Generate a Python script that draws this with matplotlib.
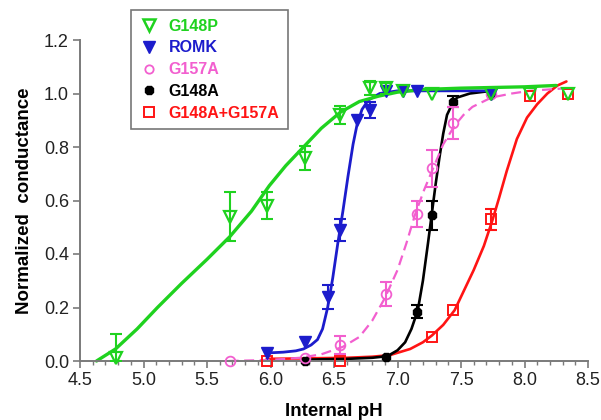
import matplotlib
matplotlib.use('Agg')
import matplotlib.pyplot as plt
from matplotlib.lines import Line2D
from matplotlib.ticker import MultipleLocator, FormatStrFormatter

plt.rcParams['font.family'] = ['Liberation Sans', 'DejaVu Sans']

# ---------------- data ----------------
series_names = ['G148P', 'ROMK', 'G157A', 'G148A', 'G148A+G157A']

g148p_ph  = [4.78, 5.68, 5.97, 6.27, 6.55, 6.78, 6.91, 7.04, 7.27, 7.74, 8.04, 8.34]
g148p_val = [0.01, 0.54, 0.58, 0.76, 0.92, 1.02, 1.02, 1.01, 1.00, 1.00, 1.00, 1.00]
g148p_err = [0.09, 0.09, 0.05, 0.045, 0.035, 0.025, 0.02, 0, 0, 0, 0, 0]

romk_ph  = [5.97, 6.27, 6.45, 6.55, 6.68, 6.78, 6.91, 7.04, 7.15, 7.74]
romk_val = [0.03, 0.07, 0.24, 0.49, 0.90, 0.94, 1.01, 1.01, 1.01, 1.00]
romk_err = [0, 0, 0.045, 0.04, 0, 0.03, 0, 0, 0, 0]

g157a_ph  = [5.68, 6.27, 6.55, 6.91, 7.15, 7.27, 7.44, 7.74]
g157a_val = [0.00, 0.01, 0.06, 0.25, 0.55, 0.72, 0.89, 1.00]
g157a_err = [0, 0, 0.035, 0.045, 0.05, 0.07, 0.06, 0]

g148a_ph  = [6.27, 6.91, 7.15, 7.27, 7.44, 7.74]
g148a_val = [0.00, 0.015, 0.185, 0.545, 0.97, 1.00]
g148a_err = [0, 0, 0.025, 0.055, 0.02, 0]

dbl_ph  = [5.97, 6.55, 7.27, 7.44, 7.74, 8.04, 8.34]
dbl_val = [0.00, 0.00, 0.09, 0.19, 0.53, 0.99, 1.00]
dbl_err = [0, 0, 0, 0, 0.04, 0, 0]

# fitted curves
g148p_fit_ph  = [4.63, 4.78, 4.95, 5.11, 5.30, 5.50, 5.68, 5.85, 5.99, 6.12, 6.26, 6.40,
                 6.55, 6.70, 6.85, 7.00, 7.20, 7.50, 8.00, 8.25]
g148p_fit_val = [0.00, 0.045, 0.12, 0.20, 0.29, 0.38, 0.465, 0.56, 0.655, 0.73, 0.80, 0.87,
                 0.93, 0.97, 0.99, 1.005, 1.015, 1.02, 1.025, 1.03]

romk_fit_ph  = [5.97, 6.10, 6.20, 6.26, 6.32, 6.37, 6.41, 6.45, 6.49, 6.53, 6.57, 6.61,
                6.65, 6.68, 6.72, 6.77, 6.86, 7.00, 7.74]
romk_fit_val = [0.03, 0.033, 0.038, 0.045, 0.06, 0.08, 0.12, 0.20, 0.31, 0.44, 0.56, 0.69,
                0.81, 0.88, 0.94, 0.975, 1.00, 1.01, 1.01]

g157a_fit_ph  = [5.67, 6.00, 6.23, 6.40, 6.57, 6.70, 6.80, 6.90, 7.00, 7.07, 7.14, 7.21,
                 7.28, 7.36, 7.45, 7.52, 7.59, 7.74, 7.90, 8.04, 8.34]
g157a_fit_val = [0.00, 0.004, 0.012, 0.025, 0.053, 0.09, 0.15, 0.235, 0.34, 0.44, 0.55, 0.64,
                 0.72, 0.81, 0.88, 0.92, 0.95, 0.985, 1.00, 1.01, 1.02]

g148a_fit_ph  = [6.27, 6.60, 6.80, 6.92, 7.00, 7.06, 7.11, 7.16, 7.20, 7.24, 7.27, 7.30,
                 7.33, 7.36, 7.39, 7.43, 7.47, 7.57, 7.74]
g148a_fit_val = [0.005, 0.008, 0.012, 0.018, 0.04, 0.07, 0.12, 0.19, 0.30, 0.44, 0.55, 0.66,
                 0.76, 0.85, 0.92, 0.96, 0.985, 1.00, 1.01]

dbl_fit_ph  = [5.97, 6.30, 6.60, 6.80, 6.94, 7.10, 7.20, 7.27, 7.36, 7.45, 7.53, 7.60,
               7.68, 7.75, 7.80, 7.86, 7.94, 8.02, 8.10, 8.18, 8.26, 8.33]
dbl_fit_val = [0.008, 0.01, 0.012, 0.016, 0.022, 0.045, 0.07, 0.095, 0.135, 0.19, 0.27, 0.34,
               0.43, 0.53, 0.61, 0.71, 0.83, 0.91, 0.96, 1.00, 1.03, 1.045]

x_ticks = [4.5, 5.0, 5.5, 6.0, 6.5, 7.0, 7.5, 8.0, 8.5]
y_ticks = [0.0, 0.2, 0.4, 0.6, 0.8, 1.0, 1.2]

# ---------------- styles ----------------
GREEN = '#1fd21f'
BLUE = '#1c1ccc'
PINK = '#f25fcf'
BLACK = '#000000'
RED = '#ff1414'

fig = plt.figure(figsize=(6.01, 4.20), dpi=100)
ax = fig.add_axes([80/601, 1-361/420, 508/601, 321/420])

def draw_curve(xs, ys, color, lw, ls='-', z=2):
    ax.plot(xs, ys, color=color, lw=lw, ls=ls, zorder=z, clip_on=False,
            solid_capstyle='round', dash_capstyle='butt')

draw_curve(dbl_fit_ph, dbl_fit_val, RED, 1.9)
draw_curve(g148a_fit_ph, g148a_fit_val, BLACK, 1.9)
ax.plot(g157a_fit_ph, g157a_fit_val, color=PINK, lw=1.6, ls=(0, (4.5, 2.5)), zorder=2,
        clip_on=False)
draw_curve(romk_fit_ph, romk_fit_val, BLUE, 2.0)
draw_curve(g148p_fit_ph, g148p_fit_val, GREEN, 2.4)

def draw_points(xs, ys, es, color, marker, ms, mfc, mew, z):
    ex = [x for x, e in zip(xs, es) if e > 0]
    ey = [y for y, e in zip(ys, es) if e > 0]
    el = [min(e, y) for y, e in zip(ys, es) if e > 0]
    eh = [e for e in es if e > 0]
    if ex:
        ax.errorbar(ex, ey, yerr=[el, eh], fmt='none', ecolor=color, elinewidth=1.5,
                    capsize=4.5, capthick=1.5, zorder=z)
    ax.plot(xs, ys, ls='none', marker=marker, ms=ms, mfc=mfc, mec=color, mew=mew,
            zorder=z + 0.1, clip_on=False)

draw_points(dbl_ph, dbl_val, dbl_err, RED, 's', 7, 'none', 1.4, 3)
draw_points(g148a_ph, g148a_val, g148a_err, BLACK, '8', 6.5, BLACK, 1.0, 3.2)
draw_points(g157a_ph, g157a_val, g157a_err, PINK, 'o', 7, 'none', 1.3, 3.4)
draw_points(romk_ph, romk_val, romk_err, BLUE, 'v', 8, BLUE, 1.0, 3.6)
draw_points(g148p_ph, g148p_val, g148p_err, GREEN, 'v', 9, 'none', 1.6, 3.8)

# ---------------- axes ----------------
ax.set_xlim(4.5, 8.5)
ax.set_ylim(0, 1.2)
ax.set_xticks(x_ticks)
ax.set_yticks(y_ticks)
ax.xaxis.set_minor_locator(MultipleLocator(0.1))
ax.xaxis.set_major_formatter(FormatStrFormatter('%.1f'))
ax.yaxis.set_major_formatter(FormatStrFormatter('%.1f'))
for s in ['top', 'right']:
    ax.spines[s].set_visible(False)
for s in ['left', 'bottom']:
    ax.spines[s].set_color('#7a7a7a')
    ax.spines[s].set_linewidth(1.4)
ax.tick_params(axis='both', which='major', direction='out', length=5, width=1.2,
               color='#7a7a7a', labelsize=13, labelcolor='#222222', pad=3)
ax.tick_params(axis='x', which='minor', direction='out', length=3, width=1.0,
               color='#7a7a7a')
ax.set_xlabel('Internal pH', fontsize=13.5, fontweight='bold', labelpad=10)
ax.set_ylabel('Normalized  conductance', fontsize=13.5, fontweight='bold', labelpad=8)

# ---------------- legend ----------------
handles = [
    Line2D([], [], ls='none', marker='v', ms=9, mfc='none', mec=GREEN, mew=1.8),
    Line2D([], [], ls='none', marker='v', ms=8, mfc=BLUE, mec=BLUE),
    Line2D([], [], ls='none', marker='o', ms=6, mfc='none', mec=PINK, mew=1.3),
    Line2D([], [], ls='none', marker='8', ms=6.5, mfc=BLACK, mec=BLACK),
    Line2D([], [], ls='none', marker='s', ms=6.5, mfc='none', mec=RED, mew=1.4),
]
leg = fig.legend(handles, series_names, loc='upper left',
                 bbox_to_anchor=(131/601, 1-10/420), bbox_transform=fig.transFigure,
                 borderaxespad=0, frameon=True, fancybox=False, handlelength=1.2,
                 handletextpad=0.6, labelspacing=0.42, borderpad=0.55,
                 prop={'weight': 'bold', 'size': 11.5})
leg.get_frame().set_edgecolor('#555555')
leg.get_frame().set_linewidth(1.2)
for txt, c in zip(leg.get_texts(), [GREEN, BLUE, PINK, BLACK, RED]):
    txt.set_color(c)

fig.savefig('out.png', dpi=100)
